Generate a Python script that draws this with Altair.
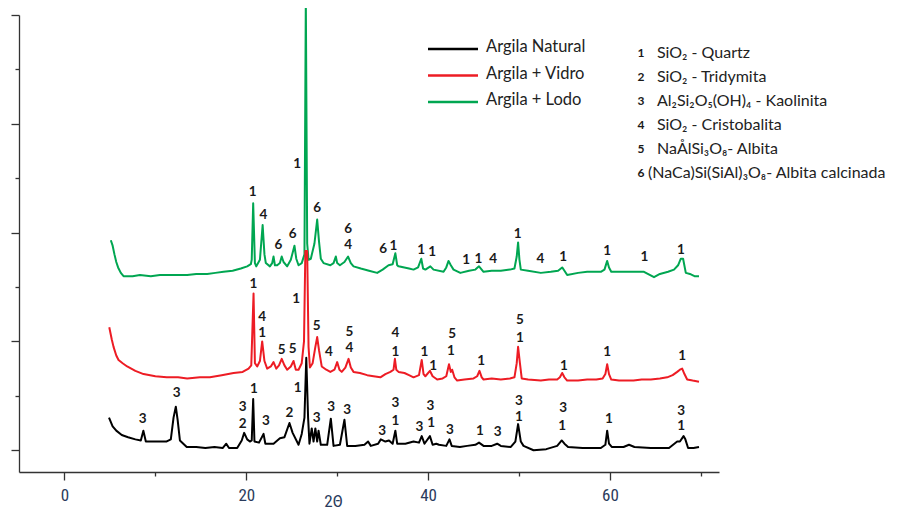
import altair as alt
import pandas as pd

# ---------------- data ----------------
# Argila Natural (black)
tt_natural = [4.9, 5.3, 5.7, 6.3, 7.0, 7.8, 8.4, 8.68, 8.95, 9.6, 10.5, 11.2, 11.7, 12.0, 12.25, 12.45, 12.7,
              13.45, 14.5, 15.5, 16.5, 17.4, 17.8, 18.1, 19.0, 19.5, 19.77, 20.1, 20.4, 20.6, 20.76, 20.9,
              21.4, 21.9, 22.1, 23.0, 23.7, 24.2, 24.75, 25.1, 25.75, 26.1, 26.4, 26.6, 26.8, 26.95, 27.2,
              27.4, 27.6, 27.8, 27.95, 28.2, 28.9, 29.3, 29.6, 30.3, 30.8, 31.1, 32.0, 33.0, 33.4, 33.7,
              34.5, 34.8, 35.3, 35.7, 36.1, 36.4, 36.6, 37.5, 38.4, 39.0, 39.3, 39.6, 40.2, 40.5, 40.9,
              41.2, 42.0, 42.35, 42.6, 43.5, 44.3, 45.2, 45.6, 46.1, 47.0, 47.6, 48.0, 49.1, 49.6, 49.9,
              50.2, 50.5, 51.6, 53.0, 54.2, 54.7, 55.0, 55.4, 57.0, 59.0, 59.5, 59.7, 59.9, 60.2, 61.5,
              62.1, 62.7, 64.5, 66.5, 67.4, 67.7, 68.1, 68.3, 68.6, 69.2, 69.8]
int_natural = [0.30, 0.22, 0.18, 0.14, 0.12, 0.10, 0.09, 0.18, 0.08, 0.08, 0.08, 0.08, 0.10, 0.30, 0.40, 0.28, 0.09,
               0.03, 0.03, 0.02, 0.03, 0.02, 0.06, 0.02, 0.02, 0.09, 0.16, 0.10, 0.08, 0.09, 0.47, 0.08,
               0.07, 0.15, 0.06, 0.06, 0.11, 0.12, 0.25, 0.16, 0.05, 0.15, 0.30, 0.85, 0.30, 0.06, 0.20,
               0.08, 0.20, 0.08, 0.18, 0.05, 0.05, 0.29, 0.04, 0.05, 0.28, 0.04, 0.04, 0.05, 0.08, 0.04,
               0.06, 0.10, 0.08, 0.09, 0.06, 0.18, 0.06, 0.06, 0.08, 0.07, 0.13, 0.06, 0.13, 0.05, 0.06,
               0.05, 0.04, 0.10, 0.04, 0.03, 0.04, 0.05, 0.07, 0.04, 0.04, 0.06, 0.04, 0.03, 0.08, 0.24,
               0.08, 0.04, 0.00, 0.01, 0.04, 0.09, 0.06, 0.03, 0.02, 0.02, 0.05, 0.18, 0.06, 0.03, 0.03,
               0.05, 0.03, 0.02, 0.02, 0.08, 0.08, 0.13, 0.10, 0.02, 0.02, 0.03]

# Argila + Vidro (red)
tt_vidro = [4.93, 5.2, 5.4, 5.7, 5.95, 6.4, 6.9, 7.8, 8.7, 10.0, 11.25, 12.5, 13.5, 14.9, 16.0, 17.3, 18.6,
            19.6, 20.25, 20.55, 20.8, 20.95, 21.2, 21.5, 21.75, 22.0, 22.3, 22.7, 23.0, 23.3, 23.6, 23.9,
            24.2, 24.5, 24.9, 25.2, 25.45, 25.75, 26.1, 26.35, 26.5, 26.7, 26.85, 27.0, 27.3, 27.6, 27.8,
            28.0, 28.3, 28.8, 29.25, 29.7, 30.0, 30.25, 30.5, 30.9, 31.25, 31.5, 31.8, 32.5, 33.3, 34.0,
            34.75, 35.3, 35.85, 36.2, 36.35, 36.5, 36.75, 37.4, 37.9, 38.4, 39.0, 39.3, 39.5, 39.7, 40.2,
            40.5, 41.0, 41.6, 42.0, 42.3, 42.5, 42.65, 42.9, 43.2, 44.0, 45.0, 45.4, 45.65, 45.9, 46.1,
            47.0, 48.0, 49.0, 49.5, 49.75, 49.9, 50.1, 50.3, 51.0, 52.4, 53.3, 54.2, 54.5, 54.75, 55.0,
            55.3, 56.5, 57.5, 58.5, 59.2, 59.5, 59.7, 59.9, 60.15, 61.0, 62.6, 63.5, 64.5, 65.5, 66.3,
            66.9, 67.4, 67.7, 67.95, 68.2, 68.5, 69.1, 69.8]
int_vidro = [1.13, 1.02, 0.95, 0.87, 0.83, 0.80, 0.77, 0.73, 0.70, 0.68, 0.67, 0.67, 0.66, 0.67, 0.67, 0.69, 0.71,
             0.72, 0.75, 0.78, 1.44, 0.80, 0.77, 0.82, 1.00, 0.82, 0.75, 0.77, 0.81, 0.75, 0.78, 0.84,
             0.78, 0.74, 0.77, 0.82, 0.74, 0.74, 0.80, 1.00, 1.83, 1.83, 0.95, 0.76, 0.80, 0.95, 1.04,
             0.92, 0.77, 0.74, 0.72, 0.74, 0.81, 0.74, 0.72, 0.76, 0.84, 0.76, 0.72, 0.71, 0.69, 0.68,
             0.67, 0.70, 0.72, 0.74, 0.84, 0.74, 0.72, 0.71, 0.69, 0.67, 0.69, 0.83, 0.70, 0.68, 0.73,
             0.68, 0.65, 0.66, 0.68, 0.79, 0.72, 0.74, 0.67, 0.64, 0.65, 0.66, 0.68, 0.73, 0.67, 0.65,
             0.66, 0.65, 0.66, 0.67, 0.80, 0.95, 0.80, 0.66, 0.65, 0.64, 0.65, 0.65, 0.67, 0.71, 0.67,
             0.64, 0.64, 0.65, 0.65, 0.66, 0.70, 0.79, 0.70, 0.65, 0.64, 0.64, 0.65, 0.65, 0.66, 0.67,
             0.69, 0.72, 0.74, 0.75, 0.70, 0.65, 0.64, 0.63]

# Argila + Lodo (green)
tt_lodo = [5.1, 5.3, 5.5, 5.7, 5.9, 6.2, 6.5, 7.5, 8.3, 9.5, 10.5, 12.0, 13.5, 14.5, 15.7, 16.6, 17.5, 18.5,
           19.4, 20.1, 20.5, 20.6, 20.76, 20.95, 21.1, 21.5, 21.8, 22.0, 22.15, 22.6, 22.85, 23.0, 23.15,
           23.4, 23.7, 23.9, 24.1, 24.5, 24.9, 25.3, 25.5, 25.75, 26.1, 26.4, 26.55, 26.7, 26.85, 27.1,
           27.5, 27.8, 28.0, 28.2, 28.5, 29.25, 29.6, 29.85, 30.0, 30.3, 30.8, 31.2, 31.5, 31.8, 32.6,
           33.5, 34.4, 35.0, 35.65, 36.1, 36.4, 36.6, 36.75, 37.9, 38.4, 38.9, 39.25, 39.45, 39.7, 40.25,
           40.6, 41.7, 42.0, 42.25, 42.5, 42.8, 43.55, 44.5, 45.2, 45.6, 46.1, 47.0, 48.0, 49.0, 49.5,
           49.75, 49.9, 50.05, 50.2, 51.0, 52.4, 53.5, 54.3, 54.75, 55.0, 55.3, 56.5, 57.5, 59.0, 59.4,
           59.7, 59.9, 60.15, 61.5, 62.5, 63.75, 64.85, 65.5, 66.4, 67.05, 67.5, 67.8, 68.05, 68.35, 68.8,
           69.3, 69.8]
int_lodo = [1.93, 1.88, 1.80, 1.73, 1.68, 1.63, 1.60, 1.60, 1.61, 1.60, 1.61, 1.61, 1.61, 1.62, 1.62, 1.63, 1.64, 1.65,
            1.67, 1.69, 1.71, 1.75, 2.27, 1.72, 1.69, 1.75, 2.07, 1.80, 1.72, 1.69, 1.72, 1.78, 1.70,
            1.70, 1.72, 1.78, 1.73, 1.69, 1.75, 1.88, 1.76, 1.70, 1.72, 1.80, 4.15, 1.90, 1.75, 1.76,
            1.90, 2.12, 1.92, 1.76, 1.72, 1.70, 1.72, 1.78, 1.72, 1.70, 1.73, 1.78, 1.72, 1.69, 1.67,
            1.65, 1.63, 1.66, 1.70, 1.71, 1.81, 1.70, 1.69, 1.67, 1.66, 1.68, 1.76, 1.67, 1.66, 1.69,
            1.66, 1.64, 1.68, 1.74, 1.70, 1.66, 1.63, 1.65, 1.66, 1.69, 1.64, 1.65, 1.65, 1.66, 1.67,
            1.78, 1.91, 1.75, 1.66, 1.65, 1.63, 1.64, 1.65, 1.68, 1.65, 1.61, 1.63, 1.64, 1.64, 1.66,
            1.74, 1.68, 1.64, 1.64, 1.64, 1.64, 1.59, 1.62, 1.64, 1.66, 1.70, 1.76, 1.76, 1.63, 1.62,
            1.60, 1.60]

# peak identification labels
lab_tt_natural = [8.6, 12.35, 19.6, 19.6, 20.85, 22.15, 24.75, 25.65, 27.75, 29.35, 31.1, 34.95, 36.4, 36.4,
                  39.05, 40.25, 40.35, 42.4, 45.7, 47.65, 50.0, 50.0, 54.85, 54.75, 59.9, 67.85, 67.85]
lab_int_natural = [0.29, 0.53, 0.40, 0.24, 0.56, 0.27, 0.34, 0.57, 0.30, 0.40, 0.37, 0.18, 0.43, 0.27,
                   0.21, 0.41, 0.25, 0.19, 0.18, 0.17, 0.45, 0.31, 0.39, 0.22, 0.29, 0.36, 0.22]
lab_txt_natural = ["3", "3", "3", "2", "1", "3", "2", "1", "3", "3", "3", "3", "3", "1",
                   "3", "3", "1", "3", "1", "3", "3", "1", "3", "1", "1", "3", "1"]

lab_tt_vidro = [20.8, 21.75, 21.75, 23.9, 25.1, 25.5, 27.75, 29.1, 31.35, 31.35, 36.4, 36.4, 39.6, 40.55,
                42.65, 42.5, 45.85, 50.1, 50.1, 54.95, 59.7, 67.95]
lab_int_vidro = [1.53, 1.22, 1.08, 0.92, 0.93, 1.39, 1.14, 0.90, 1.09, 0.94, 1.08, 0.90, 0.90, 0.77,
                 1.07, 0.91, 0.82, 1.20, 1.03, 0.77, 0.90, 0.87]
lab_txt_vidro = ["1", "4", "1", "5", "5", "1", "5", "4", "5", "4", "4", "1", "1", "1",
                 "5", "1", "1", "5", "1", "1", "1", "1"]

lab_tt_lodo = [20.7, 21.9, 23.55, 25.1, 25.6, 27.8, 31.2, 31.2, 35.05, 36.2, 39.25, 40.45, 44.2, 45.55,
               47.15, 49.85, 52.35, 54.85, 59.7, 63.8, 67.8]
lab_int_lodo = [2.37, 2.16, 1.89, 1.99, 2.63, 2.23, 2.03, 1.89, 1.85, 1.88, 1.84, 1.82, 1.75, 1.76,
                1.76, 1.99, 1.76, 1.78, 1.83, 1.78, 1.84]
lab_txt_lodo = ["1", "4", "6", "6", "1", "6", "6", "4", "6", "1", "1", "1", "1", "1",
                "4", "1", "4", "1", "1", "1", "1"]

series_names = ["Argila Natural", "Argila + Vidro", "Argila + Lodo"]
series_colors = ["#000000", "#ED1C24", "#00A651"]

phase_numbers = ["1", "2", "3", "4", "5", "6"]
phase_names = ["SiO₂ - Quartz", "SiO₂ - Tridymita", "Al₂Si₂O₅(OH)₄ - Kaolinita",
               "SiO₂ - Cristobalita", "NaÅlSi₃O₈- Albita", "(NaCa)Si(SiAl)₃O₈- Albita calcinada"]

# ---------------- chart ----------------
FONT = "Lato"
AXIS_FONT = "Liberation Sans Narrow, Roboto Condensed, Liberation Sans, sans-serif"
AXIS_TEXT_COLOR = "#2a3b5c"

x_scale = alt.Scale(domain=[-5, 72], nice=False, zero=False)
y_scale = alt.Scale(domain=[-0.2, 4.0], nice=False, zero=False)

x_axis = alt.Axis(
    values=[0, 10, 20, 30, 40, 50, 60, 70],
    labelExpr="datum.value % 20 === 0 ? datum.label : ''",
    tickSize={"condition": {"test": "datum.value % 20 === 0", "value": 8}, "value": 4},
    title="2Θ", titleX=314, titleY=34, titleBaseline="alphabetic", titleAlign="center",
    titleFont=AXIS_FONT, titleFontSize=17, titleFontWeight="normal", titleColor=AXIS_TEXT_COLOR,
    labelFont=AXIS_FONT, labelFontSize=17, labelColor=AXIS_TEXT_COLOR, labelPadding=7,
    grid=False, domainColor="#333333", tickColor="#333333", domainWidth=1.3, tickWidth=1.3,
)
y_axis = alt.Axis(
    values=[0, 0.5, 1, 1.5, 2, 2.5, 3, 3.5, 4],
    tickSize={"condition": {"test": "datum.value % 1 === 0", "value": 8}, "value": 4},
    labels=False, title=None, grid=False,
    domainColor="#333333", tickColor="#333333", domainWidth=1.3, tickWidth=1.3,
)


def trace(xs, ys, color):
    df = pd.DataFrame({"two_theta": xs, "intensity": ys})
    return alt.Chart(df).mark_line(color=color, strokeWidth=2, strokeJoin="round").encode(
        x=alt.X("two_theta:Q", scale=x_scale, axis=x_axis),
        y=alt.Y("intensity:Q", scale=y_scale, axis=y_axis),
    )


def peak_labels(xs, ys, txt):
    df = pd.DataFrame({"two_theta": xs, "intensity": ys, "fase": txt})
    return alt.Chart(df).mark_text(font=FONT, fontSize=13.5, fontWeight="bold", color="#1a1a1a",
                                   align="center", baseline="middle").encode(
        x=alt.X("two_theta:Q", scale=x_scale, axis=x_axis),
        y=alt.Y("intensity:Q", scale=y_scale, axis=y_axis),
        text="fase:N",
    )


lines = [
    trace(tt_lodo, int_lodo, series_colors[2]),
    trace(tt_vidro, int_vidro, series_colors[1]),
    trace(tt_natural, int_natural, series_colors[0]),
]
labels = [
    peak_labels(lab_tt_lodo, lab_int_lodo, lab_txt_lodo),
    peak_labels(lab_tt_vidro, lab_int_vidro, lab_txt_vidro),
    peak_labels(lab_tt_natural, lab_int_natural, lab_txt_natural),
]

# legend (layout computed here, in pixels of the plot area)
leg_df = pd.DataFrame({
    "amostra": series_names,
    "cor": series_colors,
    "x0": [409] * 3, "x1": [459] * 3, "tx": [467] * 3,
    "ly": [34 + 26.5 * i for i in range(3)],
    "ty": [32 + 26.5 * i for i in range(3)],
})
leg_lines = alt.Chart(leg_df).mark_rule(strokeWidth=2.6).encode(
    x=alt.X("x0:Q", scale=None, axis=None), x2="x1:Q",
    y=alt.Y("ly:Q", scale=None, axis=None),
    color=alt.Color("cor:N", scale=None, legend=None),
)
leg_text = alt.Chart(leg_df).mark_text(font=FONT, fontSize=16.5, color="#222222", align="left",
                                       baseline="middle").encode(
    x=alt.X("tx:Q", scale=None, axis=None),
    y=alt.Y("ty:Q", scale=None, axis=None),
    text="amostra:N",
)

# phase key
ph_df = pd.DataFrame({
    "num": phase_numbers,
    "nome": phase_names,
    "nx": [622] * 6,
    "tx": [638, 638, 638, 638, 638, 629],
    "ty": [38 + 24 * i for i in range(6)],
})
ph_num = alt.Chart(ph_df).mark_text(font=FONT, fontSize=12, fontWeight="bold", color="#1a1a1a",
                                    align="center", baseline="middle").encode(
    x=alt.X("nx:Q", scale=None, axis=None),
    y=alt.Y("ty:Q", scale=None, axis=None),
    text="num:N",
)
ph_txt = alt.Chart(ph_df).mark_text(font=FONT, fontSize=16, color="#222222",
                                    align="left", baseline="middle").encode(
    x=alt.X("tx:Q", scale=None, axis=None),
    y=alt.Y("ty:Q", scale=None, axis=None),
    text="nome:N",
)

chart = alt.layer(*lines, *labels, leg_lines, leg_text, ph_num, ph_txt).properties(
    width=700, height=457,
    autosize=alt.AutoSizeParams(type="none"),
    padding={"left": 11, "top": 7, "right": 191, "bottom": 38},
).configure_view(stroke=None)

chart.save("out.html", embed_options={"renderer": "svg", "actions": False})
